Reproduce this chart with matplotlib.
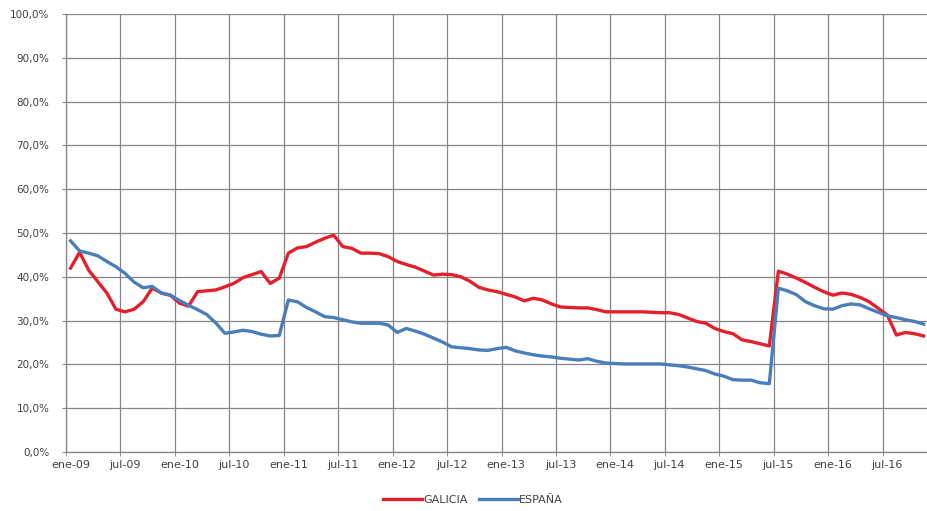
import numpy as np
import matplotlib.pyplot as plt
from matplotlib.ticker import FixedLocator

# monthly series, ene-09 .. nov-16
galicia = [42.0, 45.6, 41.5, 38.9, 36.3, 32.6, 32.0, 32.6, 34.3, 37.4,
           36.3, 35.8, 34.0, 33.3, 36.6, 36.8, 37.0, 37.7, 38.5, 39.8,
           40.5, 41.2, 38.5, 39.7, 45.4, 46.6, 46.9, 47.9, 48.8, 49.5,
           46.9, 46.5, 45.4, 45.4, 45.3, 44.6, 43.5, 42.8, 42.2, 41.3,
           40.4, 40.6, 40.5, 40.0, 39.0, 37.6, 37.0, 36.6, 36.0, 35.4,
           34.5, 35.1, 34.7, 33.8, 33.1, 33.0, 32.9, 32.9, 32.5, 32.0,
           32.0, 32.0, 32.0, 32.0, 31.9, 31.8, 31.8, 31.4, 30.6, 29.8,
           29.4, 28.2, 27.5, 27.0, 25.6, 25.2, 24.7, 24.2, 41.3, 40.6,
           39.7, 38.7, 37.6, 36.6, 35.8, 36.3, 36.0, 35.3, 34.3, 32.8,
           31.3, 26.7, 27.3, 27.0, 26.5]
espana = [48.2, 45.9, 45.4, 44.8, 43.5, 42.3, 40.8, 38.8, 37.5, 37.8,
          36.3, 35.8, 34.6, 33.5, 32.5, 31.4, 29.5, 27.1, 27.4, 27.8,
          27.5, 26.9, 26.5, 26.6, 34.7, 34.3, 33.0, 32.0, 30.9, 30.7,
          30.2, 29.7, 29.4, 29.4, 29.4, 29.0, 27.3, 28.2, 27.6, 26.9,
          26.0, 25.1, 24.0, 23.8, 23.6, 23.3, 23.2, 23.6, 23.9, 23.1,
          22.6, 22.2, 21.9, 21.7, 21.4, 21.2, 21.0, 21.3, 20.7, 20.3,
          20.2, 20.1, 20.1, 20.1, 20.1, 20.1, 19.9, 19.7, 19.4, 19.0,
          18.6, 17.8, 17.3, 16.5, 16.4, 16.4, 15.8, 15.6, 37.4, 36.8,
          35.9, 34.3, 33.4, 32.7, 32.6, 33.4, 33.8, 33.6, 32.7, 31.9,
          31.1, 30.7, 30.2, 29.8, 29.2]
x_labels = ['ene-09', 'jul-09', 'ene-10', 'jul-10', 'ene-11', 'jul-11',
            'ene-12', 'jul-12', 'ene-13', 'jul-13', 'ene-14', 'jul-14',
            'ene-15', 'jul-15', 'ene-16', 'jul-16']

color_gal = '#E3202B'
color_esp = '#4A7EBB'
txt = '#404040'

fig = plt.figure(figsize=(9.27, 5.11), dpi=100)
ax = fig.add_axes([0.0712, 0.1155, 0.93, 0.857])

x = np.arange(len(galicia))
ax.plot(x, galicia, color=color_gal, lw=2.4, label='GALICIA', zorder=3)
ax.plot(x, espana, color=color_esp, lw=2.4, label='ESPAÑA', zorder=3)

ax.set_xlim(-0.5, 94.5)
ax.set_ylim(0, 100)

# labels at category centres, gridlines between categories
ax.set_xticks(np.arange(0, 96, 6))
ax.set_xticklabels(x_labels)
ax.xaxis.set_minor_locator(FixedLocator(np.arange(0, 96, 6) - 0.5))
ax.tick_params(axis='x', which='major', length=0, labelsize=8, colors=txt, pad=6)
ax.tick_params(axis='x', which='minor', length=3, color='#868686')

yt = np.arange(0, 101, 10)
ax.set_yticks(yt)
ax.set_yticklabels([f'{v:.1f}%'.replace('.', ',') for v in yt])
ax.tick_params(axis='y', length=3, color='#868686', labelsize=7.5, colors=txt, pad=9)

ax.grid(True, axis='y', which='major', color='#868686', lw=0.9)
ax.grid(True, axis='x', which='minor', color='#868686', lw=0.9)
ax.set_axisbelow(True)

for s in ['top', 'right']:
    ax.spines[s].set_visible(False)
for s in ['left', 'bottom']:
    ax.spines[s].set_color('#868686')
    ax.spines[s].set_linewidth(0.9)

fig.legend(loc='lower center', bbox_to_anchor=(0.51, -0.008), ncol=2, frameon=False,
           fontsize=8, handlelength=3.5, handletextpad=0.1, columnspacing=1.0,
           labelcolor=txt)

plt.savefig('out.png', dpi=100)
